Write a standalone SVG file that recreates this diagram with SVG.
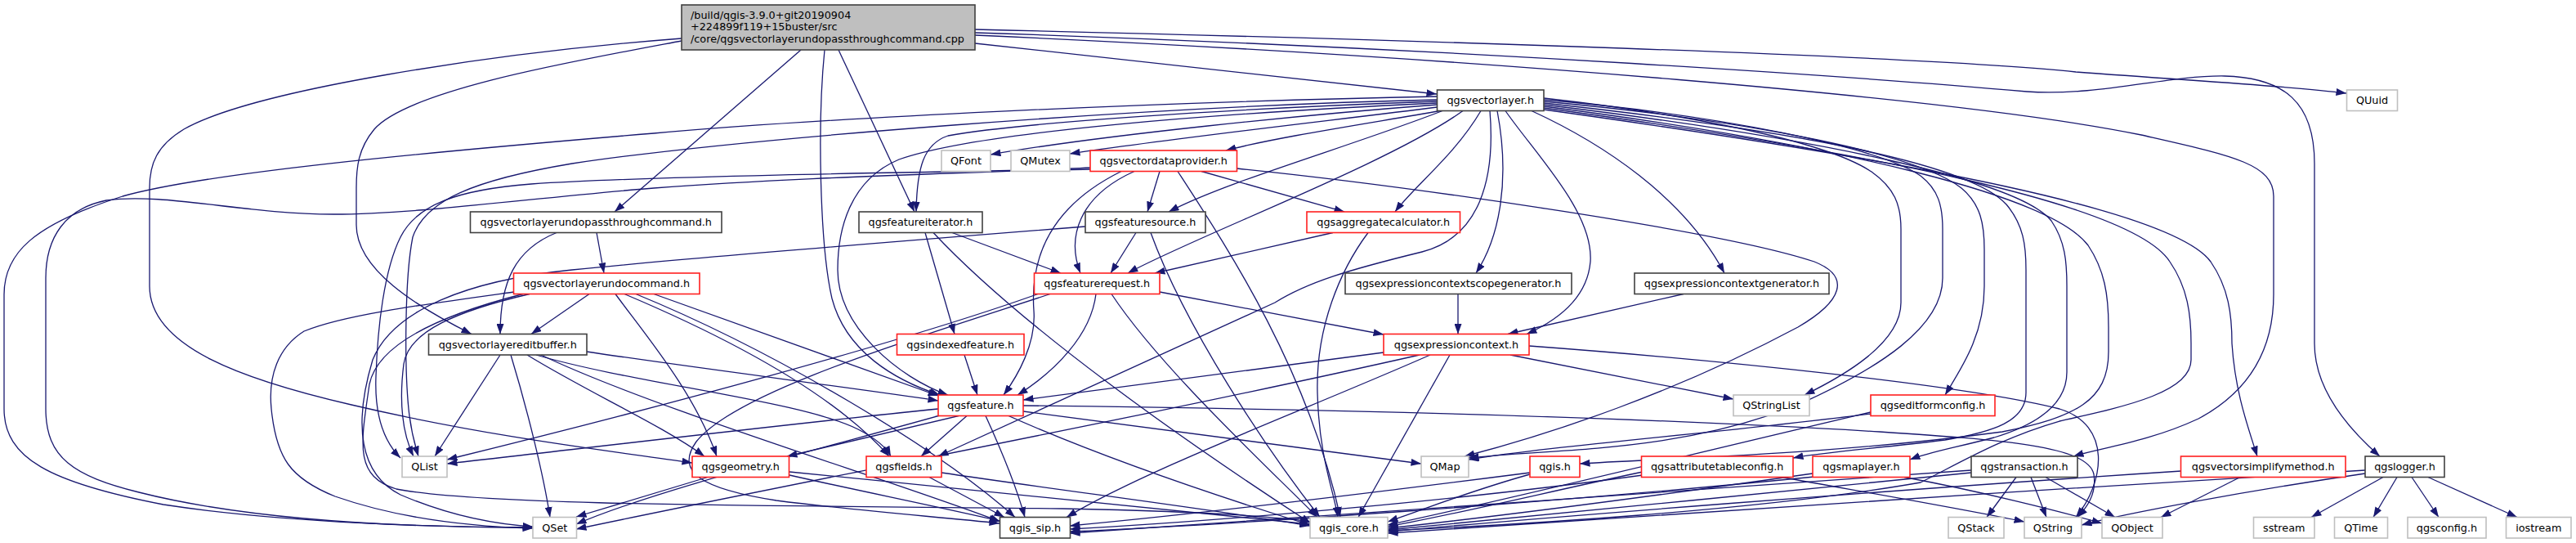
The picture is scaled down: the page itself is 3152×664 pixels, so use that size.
<svg xmlns="http://www.w3.org/2000/svg" width="3152" height="664" viewBox="0 0 3152 664">
<style>
.e path{fill:none;stroke:#191970;stroke-width:1.3;marker-end:url(#a)}
.n rect{fill:#fff;stroke:#404040;stroke-width:1.6}
.r rect{stroke:#ff2020}
.x rect{stroke:#bfbfbf}
.m rect{fill:#bfbfbf}
text{font-family:"DejaVu Sans","Liberation Sans",sans-serif;font-size:12.8px;fill:#000;text-anchor:middle}
.m text{text-anchor:start}
</style>
<defs>
<marker id="a" viewBox="0 0 12.5 9" refX="12.5" refY="4.5" markerWidth="12.5" markerHeight="9" markerUnits="userSpaceOnUse" orient="auto"><path d="M0,0L12.5,4.5L0,9z" fill="#191970"/></marker>
</defs>
<rect width="3152" height="664" fill="#fff"/>
<g id="edges" class="e">
<path d="M1193,53 L1758,115"/>
<path d="M1193,36 C1700,48 2350,68 2540,88 C2700,100 2800,105 2871,114"/>
<path d="M1193,40 C1800,60 2300,96 2480,112 C2570,118 2650,92 2722,93 C2795,95 2832,125 2832,200 L2832,420 C2832,480 2880,530 2912,558"/>
<path d="M1193,43 C1800,70 2400,120 2620,165 C2730,190 2782,200 2782,240 L2782,360 C2782,430 2750,480 2690,512 C2630,540 2570,548 2537,558"/>
<path d="M980,61 L752,259"/>
<path d="M834,50 C700,75 500,110 458,158 C438,182 436,205 436,230 L436,275 C436,330 510,375 577,408.5"/>
<path d="M834,47 C600,65 310,110 225,158 C192,178 183,200 183,230 L183,350 C183,425 300,465 430,495 C600,535 760,553 847,566"/>
<path d="M1026,61 L1119,259"/>
<path d="M1009,61 C1000,150 1003,300 1018,365 C1035,430 1095,465 1150,483"/>
<path d="M730,284.5 L739,334"/>
<path d="M681,284.5 C630,305 612,345 612,408.5"/>
<path d="M721,359.5 L650,408.5"/>
<path d="M629,357 C520,372 420,385 372,405 C340,425 328,460 332,500 C338,560 355,585 410,607 C490,635 580,644 652,646"/>
<path d="M648,359.5 C560,380 500,405 494,445 C489,485 490,525 506,558"/>
<path d="M800,359.5 L1148,484"/>
<path d="M753,359.5 C790,410 850,480 877,558"/>
<path d="M764,359.5 C860,400 1010,470 1088,558"/>
<path d="M778,359.5 C950,430 1150,550 1242,632.5"/>
<path d="M640,359.5 C540,385 462,420 452,470 C442,540 432,582 485,598 C600,620 1000,618 1300,622 C1450,625 1550,630 1603,638"/>
<path d="M612,434 L532,558"/>
<path d="M625,434 C645,500 665,580 673,632.5"/>
<path d="M645,434 C720,480 810,520 862,558"/>
<path d="M656,434 C780,470 980,490 1050,525 C1075,538 1085,548 1090,558"/>
<path d="M718,430 C850,450 1050,475 1148,490"/>
<path d="M662,434 C800,500 1100,590 1224,638"/>
<path d="M1165,284.5 L1298,334"/>
<path d="M1132,284.5 L1168,408.5"/>
<path d="M1142,284.5 C1250,400 1450,540 1604,640"/>
<path d="M1148,500 C950,520 700,550 547,567"/>
<path d="M1150,508 C1000,550 800,600 705,641"/>
<path d="M1173,508.5 L963,558"/>
<path d="M1183,508.5 L1127,558"/>
<path d="M1206,508.5 C1225,550 1245,600 1254,632.5"/>
<path d="M1234,508.5 C1350,560 1500,610 1603,642"/>
<path d="M1252,503 L1739,567"/>
<path d="M1252,496 C1600,500 2000,510 2300,528 C2450,538 2555,545 2562,580 C2566,605 2552,622 2542,632.5"/>
<path d="M866,583.5 L705,632"/>
<path d="M966,581 C1050,600 1150,620 1223,637"/>
<path d="M966,577 C1200,600 1450,625 1603,641"/>
<path d="M1137,583.5 L1229,632.5"/>
<path d="M1152,578 C1300,600 1500,625 1603,643"/>
<path d="M1419,209.5 L1404,259"/>
<path d="M1388,209.5 C1320,240 1305,290 1322,334"/>
<path d="M1372,209.5 C1290,250 1260,310 1265,380 C1268,420 1245,460 1228,483"/>
<path d="M1470,209.5 L1645,259"/>
<path d="M1441,209.5 C1500,300 1600,450 1640,632.5"/>
<path d="M1513.5,206 C1700,225 2100,280 2220,320 C2265,338 2255,368 2200,400 C2050,480 1900,530 1792,558"/>
<path d="M1334,205 C1200,212 1000,215 800,230 C650,242 510,262 408,262 C300,262 200,235 130,245 C80,255 56,290 56,340 L56,500 C56,560 90,582 170,602 C320,640 520,645 652,645"/>
<path d="M1334,207 C1150,210 800,215 650,225 C560,232 510,250 490,290 C470,330 462,400 460,460 C458,510 470,540 490,560"/>
<path d="M1390,284.5 L1359,334"/>
<path d="M1408,284.5 C1450,400 1550,550 1615,632.5"/>
<path d="M1328,277 C1100,295 850,315 700,330 C570,343 480,380 456,440 C432,520 440,580 490,605 C560,635 620,642 652,644"/>
<path d="M1341,359.5 C1335,410 1290,455 1245,483"/>
<path d="M1419,357 L1693,409"/>
<path d="M1285,359.5 C1100,420 900,480 852,540 C825,578 860,598 950,612 C1050,625 1150,632 1223,640"/>
<path d="M1270,359.5 C1100,420 800,500 547,562"/>
<path d="M1360,359.5 C1420,450 1550,570 1612,632.5"/>
<path d="M1180,434 L1196,483"/>
<path d="M1631,284.5 L1413,334"/>
<path d="M1674,284.5 C1640,330 1610,400 1612,480 C1614,560 1632,600 1637,632.5"/>
<path d="M1784,359.5 L1784,408.5"/>
<path d="M2060,359.5 L1845,408.5"/>
<path d="M1693,431 L1252,489"/>
<path d="M1848,434 L2121,488"/>
<path d="M1774,434 L1662,632.5"/>
<path d="M1750,434 C1600,500 1400,575 1305,632.5"/>
<path d="M1737,434 C1400,510 1000,585 705,647"/>
<path d="M1871,423 C2100,440 2400,470 2520,500 C2585,520 2575,590 2540,632.5"/>
<path d="M2289,506 C2100,530 1900,545 1797,562"/>
<path d="M2289,504 C2050,560 1850,610 1698,642"/>
<path d="M1872,580 C1800,600 1750,620 1698,638"/>
<path d="M1872,578 C1700,600 1450,630 1309,643"/>
<path d="M2010,577 C1900,600 1800,625 1698,644"/>
<path d="M2180,583.5 C2300,605 2400,622 2477,638"/>
<path d="M2010,581 C1800,610 1500,637 1309,647"/>
<path d="M2218,579 C2000,610 1800,635 1698,646"/>
<path d="M2220,583 C1900,615 1500,642 1309,650"/>
<path d="M2330,583.5 C2420,600 2520,625 2572,640"/>
<path d="M2467,583.5 L2431,632.5"/>
<path d="M2485,583.5 L2504,632.5"/>
<path d="M2503,583.5 L2588,632.5"/>
<path d="M2412,578 C2200,600 1900,628 1698,648"/>
<path d="M2412,575 C2100,598 1600,632 1309,652"/>
<path d="M2741,583.5 L2644,632.5"/>
<path d="M2669,576 C2300,600 1900,632 1698,650"/>
<path d="M2916,583.5 L2828,632.5"/>
<path d="M2933,583.5 L2904,632.5"/>
<path d="M2951,583.5 L2984,632.5"/>
<path d="M2971,583.5 L3080,632.5"/>
<path d="M2894,579 C2750,600 2600,628 2547,642"/>
<path d="M2894,575 C2500,598 2000,632 1698,652"/>
<path d="M1758.5,128 C1600,140 1350,165 1212,189"/>
<path d="M1758.5,131 C1650,145 1450,167 1309,188"/>
<path d="M1762,135.5 C1680,150 1560,168 1500,184"/>
<path d="M1765,135.5 C1650,180 1500,222 1430,259"/>
<path d="M1790,135.5 C1700,200 1460,290 1380,334"/>
<path d="M1812,135.5 C1780,190 1730,228 1707,259"/>
<path d="M1823,135.5 C1830,220 1810,290 1740,308 C1650,330 1600,345 1560,370 L1148,558"/>
<path d="M1832,135.5 C1848,220 1835,290 1806,334"/>
<path d="M1842,135.5 C1880,190 1950,260 1946,320 C1942,365 1905,392 1868,408.5"/>
<path d="M1874,135.5 C1960,175 2060,240 2110,334"/>
<path d="M1758.5,124 C1500,133 1250,150 1160,166 C1130,176 1122,205 1121,259"/>
<path d="M1758.5,126 C1500,138 1200,160 1100,195 C1040,220 1025,280 1025,330 C1025,400 1100,462 1160,483"/>
<path d="M1758.5,122 C1400,130 900,170 700,200 C580,220 520,245 505,290 C495,340 495,450 500,500 C503,530 508,545 512,558"/>
<path d="M1758.5,118 C1400,125 1000,145 800,163 C500,188 250,212 150,240 C40,275 5,310 5,360 L5,500 C5,560 60,590 200,617 C350,640 550,645 652,645"/>
<path d="M1889,120 C2050,138 2230,170 2290,210 C2318,230 2326,250 2326,280 L2326,370 C2326,420 2255,460 2208,483"/>
<path d="M1889,122 C2100,140 2300,180 2350,215 C2372,232 2377,252 2377,280 L2377,340 C2377,400 2300,450 2200,495 C2050,555 1900,548 1797,560"/>
<path d="M1889,124 C2150,148 2350,190 2400,230 C2424,250 2428,275 2428,305 L2428,350 C2428,410 2400,450 2380,483"/>
<path d="M1889,126 C2200,160 2410,200 2455,250 C2476,275 2479,300 2479,330 L2479,480 C2479,515 2440,528 2380,538 C2300,548 2230,553 2194,560"/>
<path d="M1889,128 C2220,168 2470,220 2510,270 C2527,295 2529,320 2529,350 L2529,455 C2529,495 2490,520 2440,535 C2390,548 2360,553 2337,562"/>
<path d="M1889,130 C2260,178 2510,240 2555,300 C2575,330 2580,360 2580,400 L2580,430 C2580,490 2540,510 2450,528 C2250,555 2050,560 1933,567"/>
<path d="M1889,132 C2300,188 2610,250 2655,320 C2677,352 2681,385 2681,420 L2681,440 C2681,480 2600,497 2520,515 C2450,535 2400,565 2350,590 C2150,625 1850,642 1698,649"/>
<path d="M1889,134 C2350,198 2660,258 2705,320 C2727,352 2731,385 2731,420 C2735,480 2750,520 2762,558"/>
</g>
<g id="node0" class="n m"><rect x="834" y="6" width="359" height="55"/><text x="845" y="22.5">/build/qgis-3.9.0+git20190904</text><text x="845" y="37">+224899f119+15buster/src</text><text x="845" y="51.5">/core/qgsvectorlayerundopassthroughcommand.cpp</text></g>
<g id="node1" class="n"><rect x="1758.5" y="110" width="130.5" height="25.5"/><text x="1823.75" y="127">qgsvectorlayer.h</text></g>
<g id="node2" class="n x"><rect x="2871.5" y="110" width="62" height="25.5"/><text x="2902.5" y="127">QUuid</text></g>
<g id="node3" class="n"><rect x="2894" y="558" width="97" height="25.5"/><text x="2942.5" y="575">qgslogger.h</text></g>
<g id="node4" class="n"><rect x="575.5" y="259" width="307.5" height="25.5"/><text x="729.25" y="276">qgsvectorlayerundopassthroughcommand.h</text></g>
<g id="node5" class="n r"><rect x="628.5" y="334" width="227.5" height="25.5"/><text x="742.25" y="351">qgsvectorlayerundocommand.h</text></g>
<g id="node6" class="n"><rect x="524.5" y="408.5" width="193.5" height="25.5"/><text x="621.25" y="425.5">qgsvectorlayereditbuffer.h</text></g>
<g id="node7" class="n"><rect x="1051" y="259" width="151" height="25.5"/><text x="1126.5" y="276">qgsfeatureiterator.h</text></g>
<g id="node8" class="n r"><rect x="1148" y="483" width="104" height="25.5"/><text x="1200" y="500">qgsfeature.h</text></g>
<g id="node9" class="n x"><rect x="492" y="558" width="55" height="25.5"/><text x="519.5" y="575">QList</text></g>
<g id="node10" class="n x"><rect x="652" y="632.5" width="53.5" height="25.5"/><text x="678.75" y="649.5">QSet</text></g>
<g id="node11" class="n r"><rect x="847" y="558" width="118.5" height="25.5"/><text x="906.25" y="575">qgsgeometry.h</text></g>
<g id="node12" class="n r"><rect x="1060" y="558" width="92" height="25.5"/><text x="1106" y="575">qgsfields.h</text></g>
<g id="node13" class="n"><rect x="1223.5" y="632.5" width="86" height="25.5"/><text x="1266.5" y="649.5">qgis_sip.h</text></g>
<g id="node14" class="n x"><rect x="1603" y="632.5" width="95" height="25.5"/><text x="1650.5" y="649.5">qgis_core.h</text></g>
<g id="node15" class="n x"><rect x="1152" y="184" width="60" height="25.5"/><text x="1182" y="201">QFont</text></g>
<g id="node16" class="n x"><rect x="1237" y="184" width="72" height="25.5"/><text x="1273" y="201">QMutex</text></g>
<g id="node17" class="n r"><rect x="1334" y="184" width="179.5" height="25.5"/><text x="1423.75" y="201">qgsvectordataprovider.h</text></g>
<g id="node18" class="n"><rect x="1328" y="259" width="147" height="25.5"/><text x="1401.5" y="276">qgsfeaturesource.h</text></g>
<g id="node19" class="n r"><rect x="1265.5" y="334" width="153.5" height="25.5"/><text x="1342.25" y="351">qgsfeaturerequest.h</text></g>
<g id="node20" class="n r"><rect x="1097.5" y="408.5" width="155.5" height="25.5"/><text x="1175.25" y="425.5">qgsindexedfeature.h</text></g>
<g id="node21" class="n r"><rect x="1599" y="259" width="187.5" height="25.5"/><text x="1692.75" y="276">qgsaggregatecalculator.h</text></g>
<g id="node22" class="n"><rect x="1646" y="334" width="277" height="25.5"/><text x="1784.5" y="351">qgsexpressioncontextscopegenerator.h</text></g>
<g id="node23" class="n"><rect x="2000" y="334" width="238" height="25.5"/><text x="2119" y="351">qgsexpressioncontextgenerator.h</text></g>
<g id="node24" class="n r"><rect x="1693" y="408.5" width="178" height="25.5"/><text x="1782" y="425.5">qgsexpressioncontext.h</text></g>
<g id="node25" class="n x"><rect x="2121" y="483" width="93" height="25.5"/><text x="2167.5" y="500">QStringList</text></g>
<g id="node26" class="n r"><rect x="2289" y="483" width="152" height="25.5"/><text x="2365" y="500">qgseditformconfig.h</text></g>
<g id="node27" class="n x"><rect x="1739" y="558" width="58" height="25.5"/><text x="1768" y="575">QMap</text></g>
<g id="node28" class="n r"><rect x="1872" y="558" width="61" height="25.5"/><text x="1902.5" y="575">qgis.h</text></g>
<g id="node29" class="n r"><rect x="2008.5" y="558" width="185.5" height="25.5"/><text x="2101.25" y="575">qgsattributetableconfig.h</text></g>
<g id="node30" class="n r"><rect x="2218" y="558" width="119" height="25.5"/><text x="2277.5" y="575">qgsmaplayer.h</text></g>
<g id="node31" class="n"><rect x="2412" y="558" width="130" height="25.5"/><text x="2477" y="575">qgstransaction.h</text></g>
<g id="node32" class="n r"><rect x="2668.5" y="558" width="201.5" height="25.5"/><text x="2769.25" y="575">qgsvectorsimplifymethod.h</text></g>
<g id="node33" class="n x"><rect x="2384" y="632.5" width="68" height="25.5"/><text x="2418" y="649.5">QStack</text></g>
<g id="node34" class="n x"><rect x="2477" y="632.5" width="70" height="25.5"/><text x="2512" y="649.5">QString</text></g>
<g id="node35" class="n x"><rect x="2572" y="632.5" width="74" height="25.5"/><text x="2609" y="649.5">QObject</text></g>
<g id="node36" class="n x"><rect x="2757.5" y="632.5" width="74.5" height="25.5"/><text x="2794.75" y="649.5">sstream</text></g>
<g id="node37" class="n x"><rect x="2856.5" y="632.5" width="65" height="25.5"/><text x="2889" y="649.5">QTime</text></g>
<g id="node38" class="n x"><rect x="2946" y="632.5" width="96" height="25.5"/><text x="2994" y="649.5">qgsconfig.h</text></g>
<g id="node39" class="n x"><rect x="3066.5" y="632.5" width="79.5" height="25.5"/><text x="3106.25" y="649.5">iostream</text></g>
</svg>
